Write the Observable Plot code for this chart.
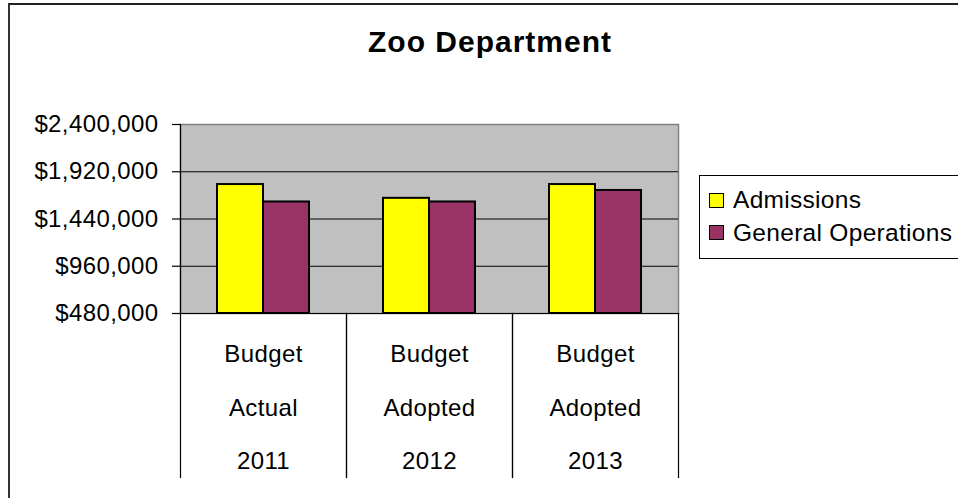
<!DOCTYPE html>
<html><head><meta charset="utf-8">
<script src="https://cdn.jsdelivr.net/npm/d3@7"></script>
<script src="https://cdn.jsdelivr.net/npm/@observablehq/plot@0.6"></script>
<style>
body{margin:0;background:#fff;}
#wrap{position:relative;width:958px;height:498px;overflow:hidden;font-family:"Liberation Sans",Arial,sans-serif;color:#000;}
#border{position:absolute;left:8px;top:3px;width:1000px;height:600px;border-left:2px solid #333;border-top:2px solid #222;}
#title{position:absolute;left:0;width:980px;top:27px;text-align:center;font-weight:bold;font-size:30px;line-height:30px;letter-spacing:1px;}
#legend{position:absolute;left:699px;top:175px;width:280px;height:82px;border:1px solid #000;background:#fff;}
.item{position:absolute;left:9px;display:flex;align-items:center;font-size:24.5px;line-height:24px;letter-spacing:0.3px;white-space:nowrap;}
.sw{width:13px;height:13px;border:1px solid #000;margin-right:9px;}
#chart{position:absolute;left:0;top:0;}
#chart svg text{letter-spacing:0.4px;}
</style></head>
<body>
<div id="wrap">
  <div id="border"></div>
  <div id="chart"></div>
  <div id="title">Zoo Department</div>
  <div id="legend"></div>
</div>
<script>
// ---- data ----
const categories = ["Budget\nActual\n2011", "Budget\nAdopted\n2012", "Budget\nAdopted\n2013"];
const series = ["Admissions", "General Operations"];
const seriesColors = ["#ffff00", "#993366"];
const admissions = [1790000, 1650000, 1790000];
const generalOperations = [1613000, 1613000, 1730000];
const yTicks = [480000, 960000, 1440000, 1920000, 2400000];

const data = categories.flatMap((c, i) => [
  {cat: c, series: series[0], value: admissions[i]},
  {cat: c, series: series[1], value: generalOperations[i]}
]);

const W = 958, H = 498, mT = 124, mB = 185, mL = 180, mR = 280;
const plotH = H - mT - mB;
const below = 164;

const chart = Plot.plot({
  width: W, height: H,
  marginLeft: mL, marginRight: mR, marginTop: mT, marginBottom: mB,
  style: {fontFamily: '"Liberation Sans", Arial, sans-serif', color: "#000", background: "transparent", overflow: "visible"},
  fx: {domain: categories, padding: 0, axis: null},
  x: {domain: series, paddingInner: 0, paddingOuter: 0.785, axis: null},
  y: {domain: [yTicks[0], yTicks[yTicks.length - 1]]},
  color: {domain: series, range: seriesColors},
  marks: [
    Plot.frame({facet: "super", fill: "#c0c0c0", stroke: "#808080", strokeWidth: 1.5}),
    Plot.ruleY(yTicks.slice(1, -1), {stroke: "#000", strokeWidth: 1}),
    Plot.barY(data, {fx: "cat", x: "series", y1: yTicks[0], y2: "value", fill: "series", stroke: "#000", strokeWidth: 2}),
    Plot.frame({facet: "super", anchor: "left", stroke: "#000", strokeWidth: 1.2}),
    Plot.frame({facet: "super", anchor: "bottom", stroke: "#000", strokeWidth: 1.2}),
    Plot.frame({anchor: "left", insetTop: plotH, insetBottom: -below, stroke: "#000", strokeWidth: 1.2}),
    Plot.frame({anchor: "right", insetTop: plotH, insetBottom: -below, stroke: "#000", strokeWidth: 1.2}),
    Plot.axisY({ticks: yTicks, tickFormat: d3.format("$,"), tickSize: 8, tickPadding: 14, fontSize: 24, label: null, strokeWidth: 1.2}),
    Plot.text(categories, {fx: d => d, text: d => d, frameAnchor: "bottom", lineAnchor: "middle", lineHeight: 2.24, dy: 85, fontSize: 24})
  ]
});
document.getElementById("chart").append(chart);

const legend = document.getElementById("legend");
const rowTops = [12, 44.5];
series.forEach((s, i) => {
  const item = document.createElement("div");
  item.className = "item";
  item.style.top = rowTops[i] + "px";
  const sw = document.createElement("span");
  sw.className = "sw";
  sw.style.background = seriesColors[i];
  const t = document.createElement("span");
  t.textContent = s;
  item.append(sw, t);
  legend.append(item);
});
</script>
</body></html>
